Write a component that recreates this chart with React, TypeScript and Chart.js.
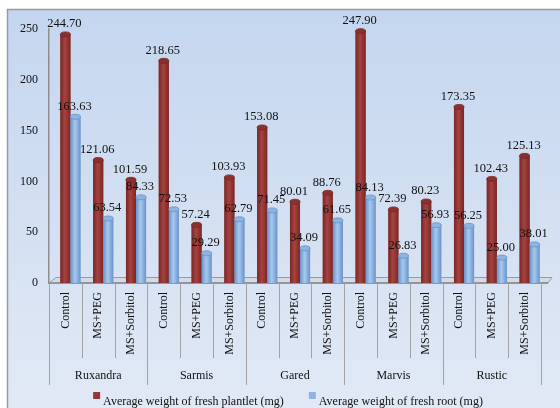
import React, { useEffect, useRef } from "react";
import { Chart, registerables } from "chart.js";

Chart.register(...registerables);

const varieties = ["Ruxandra", "Sarmis", "Gared", "Marvis", "Rustic"];
const treatments = ["Control", "MS+PEG", "MS+Sorbitol"];
const plantletWeight = [244.7, 121.06, 101.59, 218.65, 57.24, 103.93, 153.08, 80.01, 88.76, 247.9, 72.39, 80.23, 173.35, 102.43, 125.13];
const rootWeight = [163.63, 63.54, 84.33, 72.53, 29.29, 62.79, 71.45, 34.09, 61.65, 84.13, 26.83, 56.93, 56.25, 25.0, 38.01];
const yTicks = [0, 50, 100, 150, 200, 250];
const seriesNames = ["Average weight of fresh plantlet (mg)", "Average weight of fresh root (mg)"];

const categories = varieties.flatMap(() => treatments);

const SERIF = '"Liberation Serif", "Times New Roman", serif';
const RED = "#963735";
const BLUE = "#8db4e3";
const barShades = [
  { dark: "#772826", light: "#a8423f", cap: "#8a302e" },
  { dark: "#6a93c6", light: "#a6c9f1", cap: "#8cb3e1" },
];

const chartPlugin = {
  id: "excelLook",
  beforeDraw(chart: any) {
    const { ctx, width, height } = chart;
    ctx.save();
    ctx.fillStyle = "#ffffff";
    ctx.fillRect(0, 0, width, height);
    const g = ctx.createLinearGradient(0, 9, 0, height);
    g.addColorStop(0, "#c4d6ef");
    g.addColorStop(1, "#e1e9f5");
    ctx.fillStyle = g;
    ctx.fillRect(7, 9, width, height);
    ctx.strokeStyle = "#9a9a9a";
    ctx.lineWidth = 1.5;
    ctx.beginPath();
    ctx.moveTo(7.5, height + 2);
    ctx.lineTo(7.5, 9.5);
    ctx.lineTo(width + 2, 9.5);
    ctx.stroke();
    ctx.restore();
  },
  beforeDatasetsDraw(chart: any) {
    const { ctx, chartArea } = chart;
    const { left, right, bottom } = chartArea;
    ctx.save();
    ctx.beginPath();
    ctx.moveTo(left, bottom);
    ctx.lineTo(right + 7, bottom);
    ctx.lineTo(right + 11, bottom - 5.5);
    ctx.lineTo(left + 7, bottom - 5.5);
    ctx.closePath();
    ctx.fillStyle = "#d3dbe6";
    ctx.fill();
    ctx.strokeStyle = "#9a9a9a";
    ctx.lineWidth = 1;
    ctx.stroke();
    ctx.beginPath();
    ctx.moveTo(left, bottom);
    ctx.lineTo(right + 7, bottom);
    ctx.lineWidth = 2;
    ctx.strokeStyle = "#959595";
    ctx.stroke();
    ctx.restore();
  },
  afterDatasetsDraw(chart: any) {
    const { ctx } = chart;
    ctx.save();
    // cylinder shading
    [1, 2].forEach((di) => {
      const meta = chart.getDatasetMeta(di);
      const shade = barShades[di - 1];
      meta.data.forEach((el: any) => {
        const { x, y, base, width } = el.getProps(["x", "y", "base", "width"], true);
        const l = x - width / 2;
        const g = ctx.createLinearGradient(l, 0, l + width, 0);
        g.addColorStop(0, shade.dark);
        g.addColorStop(0.45, shade.light);
        g.addColorStop(1, shade.dark);
        ctx.fillStyle = g;
        ctx.fillRect(l, y, width, base - y);
        ctx.beginPath();
        ctx.ellipse(x, y, width / 2, 2.5, 0, 0, Math.PI * 2);
        ctx.fillStyle = shade.cap;
        ctx.fill();
        ctx.strokeStyle = shade.dark;
        ctx.lineWidth = 0.8;
        ctx.stroke();
      });
    });
    // value labels
    ctx.font = `12.5px ${SERIF}`;
    ctx.fillStyle = "#111111";
    ctx.textAlign = "center";
    ctx.textBaseline = "alphabetic";
    [1, 2].forEach((di) => {
      const meta = chart.getDatasetMeta(di);
      const values = chart.data.datasets[di].data;
      meta.data.forEach((el: any, i: number) => {
        const { x, y } = el.getProps(["x", "y"], true);
        ctx.fillText(Number(values[i]).toFixed(2), x - 1, y - 7);
      });
    });
    ctx.restore();
  },
  afterDraw(chart: any) {
    const { ctx, chartArea, scales } = chart;
    const xs = scales.x;
    const bottom = chartArea.bottom;
    const n = categories.length;
    const step = n > 1 ? xs.getPixelForValue(1) - xs.getPixelForValue(0) : xs.width;
    ctx.save();
    ctx.strokeStyle = "#a3a3a3";
    ctx.lineWidth = 1;
    for (let i = 0; i <= n; i++) {
      const px = Math.round(xs.getPixelForValue(i) - step / 2) + 0.5;
      const isGroup = i % treatments.length === 0;
      ctx.beginPath();
      ctx.moveTo(px, bottom);
      ctx.lineTo(px, isGroup ? bottom + 102 : bottom + 75);
      ctx.stroke();
    }
    // variety labels
    ctx.font = `12px ${SERIF}`;
    ctx.fillStyle = "#111111";
    ctx.textAlign = "center";
    ctx.textBaseline = "alphabetic";
    varieties.forEach((v, gi) => {
      const a = xs.getPixelForValue(gi * treatments.length);
      const b = xs.getPixelForValue(gi * treatments.length + treatments.length - 1);
      ctx.fillText(v, (a + b) / 2, bottom + 96);
    });
    // legend
    ctx.font = `12px ${SERIF}`;
    const ds = chart.data.datasets.slice(1);
    const box = 7;
    const gapBoxText = 3;
    const gapItems = 25;
    const widths = ds.map((d: any) => box + gapBoxText + ctx.measureText(d.label).width);
    const total = widths.reduce((s: number, w: number) => s + w, 0) + gapItems * (ds.length - 1);
    let lx = 288 - total / 2;
    const ly = 405;
    ctx.textAlign = "left";
    ds.forEach((d: any, i: number) => {
      ctx.fillStyle = d.backgroundColor;
      ctx.fillRect(lx, ly - 13, box, box);
      ctx.fillStyle = "#111111";
      ctx.fillText(d.label, lx + box + gapBoxText, ly);
      lx += widths[i] + gapItems;
    });
    ctx.restore();
  },
};

export default function App() {
  const ref = useRef<HTMLCanvasElement | null>(null);

  useEffect(() => {
    if (!ref.current) return;
    const chart = new Chart(ref.current, {
      type: "bar",
      data: {
        labels: categories,
        datasets: [
          { label: "", data: categories.map(() => null), backgroundColor: "rgba(0,0,0,0)" },
          { label: seriesNames[0], data: plantletWeight, backgroundColor: RED, borderWidth: 0 },
          { label: seriesNames[1], data: rootWeight, backgroundColor: BLUE, borderWidth: 0 },
        ],
      },
      options: {
        responsive: false,
        animation: false,
        devicePixelRatio: 1,
        layout: { padding: { left: 0, top: 29, right: 19, bottom: 0 } },
        datasets: { bar: { categoryPercentage: 0.92, barPercentage: 1 } },
        plugins: { legend: { display: false }, tooltip: { enabled: false } },
        scales: {
          x: {
            type: "category",
            offset: true,
            grid: { display: false, drawTicks: false },
            border: { display: false },
            ticks: {
              autoSkip: false,
              minRotation: 90,
              maxRotation: 90,
              padding: 9,
              color: "#111111",
              font: { family: SERIF, size: 12 },
            },
            afterFit: (s: any) => {
              s.height = 125;
            },
          },
          y: {
            min: yTicks[0],
            max: yTicks[yTicks.length - 1],
            afterBuildTicks: (s: any) => {
              s.ticks = yTicks.map((v) => ({ value: v }));
            },
            grid: { display: false, drawTicks: false },
            border: { display: true, color: "#8e8e8e", width: 1.5 },
            ticks: {
              padding: 11,
              color: "#111111",
              font: { family: SERIF, size: 12 },
            },
            afterFit: (s: any) => {
              s.width = 49;
            },
          },
        },
      },
      plugins: [chartPlugin],
    });
    return () => chart.destroy();
  }, []);

  return (
    <div style={{ position: "fixed", left: 0, top: 0, width: 560, height: 408 }}>
      <canvas ref={ref} width={560} height={408} style={{ display: "block" }} />
    </div>
  );
}
